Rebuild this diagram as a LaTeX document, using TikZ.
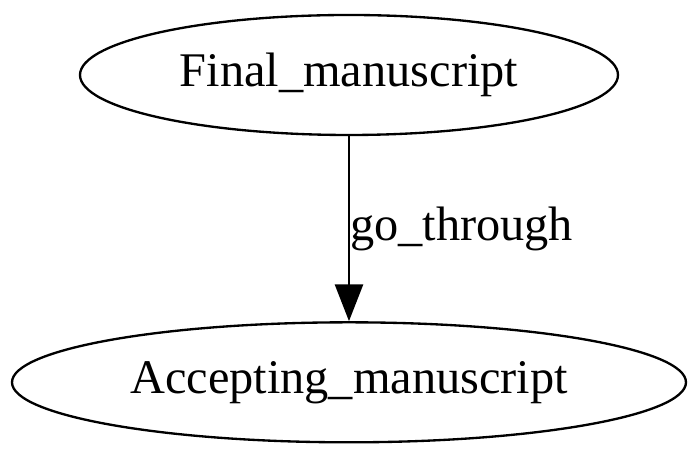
\documentclass[tikz,border=0pt]{standalone}
\usepackage{fontspec}
\setmainfont{Liberation Serif}
\usetikzlibrary{positioning,shapes.geometric,arrows.meta}

\begin{document}
\begin{tikzpicture}[x=1pt,y=1pt,
    state/.style={draw, ellipse, line width=0.7pt, inner sep=0pt,
                  minimum height=36pt, font=\fontsize{14.5pt}{16pt}\selectfont}]

            \useasboundingbox (0,0) rectangle (210,136.2);

            \node[state, minimum width=161.4pt] (final) at (104.7,113.7) {Final\_manuscript};
            \node[state, minimum width=202.2pt, below=55.5pt of final] (accept) {Accepting\_manuscript};

            \draw[-{Triangle[length=11pt,width=8.4pt]}, line width=0.7pt] (final) -- (accept)
                node[midway, right, inner sep=0pt, font=\fontsize{14.5pt}{16pt}\selectfont] {go\_through};

        \end{tikzpicture}
\end{document}
